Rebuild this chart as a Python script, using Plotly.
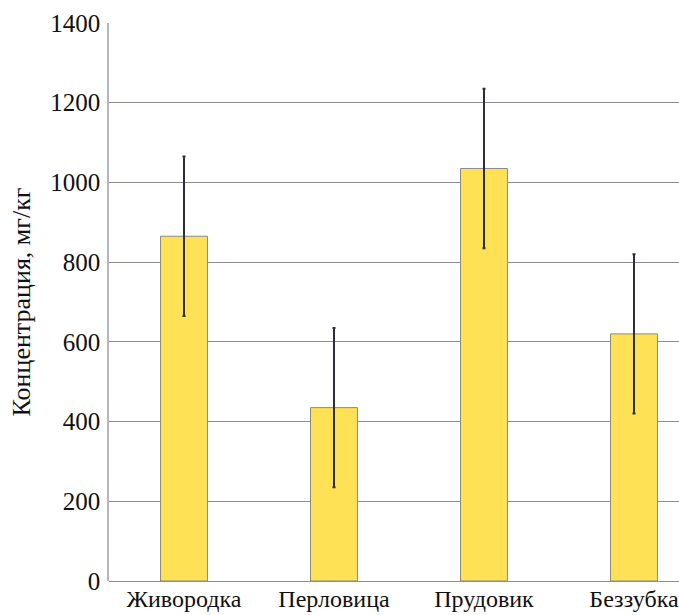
import plotly.graph_objects as go

# Mean concentration by mollusc species, with standard deviation
species = ["Живородка", "Перловица", "Прудовик", "Беззубка"]
concentration = [865, 435, 1035, 620]
deviation = [200, 200, 200, 200]

y_ticks = [0, 200, 400, 600, 800, 1000, 1200, 1400]

SERIF = "Liberation Serif"
INK = "#111111"

fig = go.Figure(
    go.Bar(
        x=species,
        y=concentration,
        width=0.313,
        marker=dict(color="#FEE154", line=dict(color="#8a8a8a", width=1)),
        error_y=dict(
            type="data",
            array=deviation,
            visible=True,
            color="#2e2e3a",
            thickness=2,
            width=1.5,
        ),
    )
)

fig.update_layout(
    width=679,
    height=615,
    margin=dict(l=109, r=0, t=23, b=34),
    paper_bgcolor="white",
    plot_bgcolor="white",
    showlegend=False,
    font=dict(family=SERIF, color=INK),
)

fig.update_xaxes(
    range=[-0.5, 3.3],
    automargin=False,
    showgrid=False,
    showline=False,
    ticks="",
    tickfont=dict(family=SERIF, size=24, color=INK),
    ticklabelstandoff=1,
)

fig.update_yaxes(
    range=[0, 1400],
    automargin=False,
    tickvals=y_ticks,
    ticktext=[str(v) for v in y_ticks],
    showgrid=True,
    gridcolor="#8c8c98",
    gridwidth=1.3,
    zeroline=True,
    zerolinecolor="#8c8c98",
    zerolinewidth=1.3,
    showline=True,
    linecolor="#b4b4bc",
    linewidth=1.5,
    ticks="",
    ticklabelstandoff=2,
    tickfont=dict(family=SERIF, size=25, color=INK),
    title=dict(
        text="Концентрация, мг/кг",
        font=dict(family=SERIF, size=26, color=INK),
        standoff=12,
    ),
)

fig.write_html("out.html")
